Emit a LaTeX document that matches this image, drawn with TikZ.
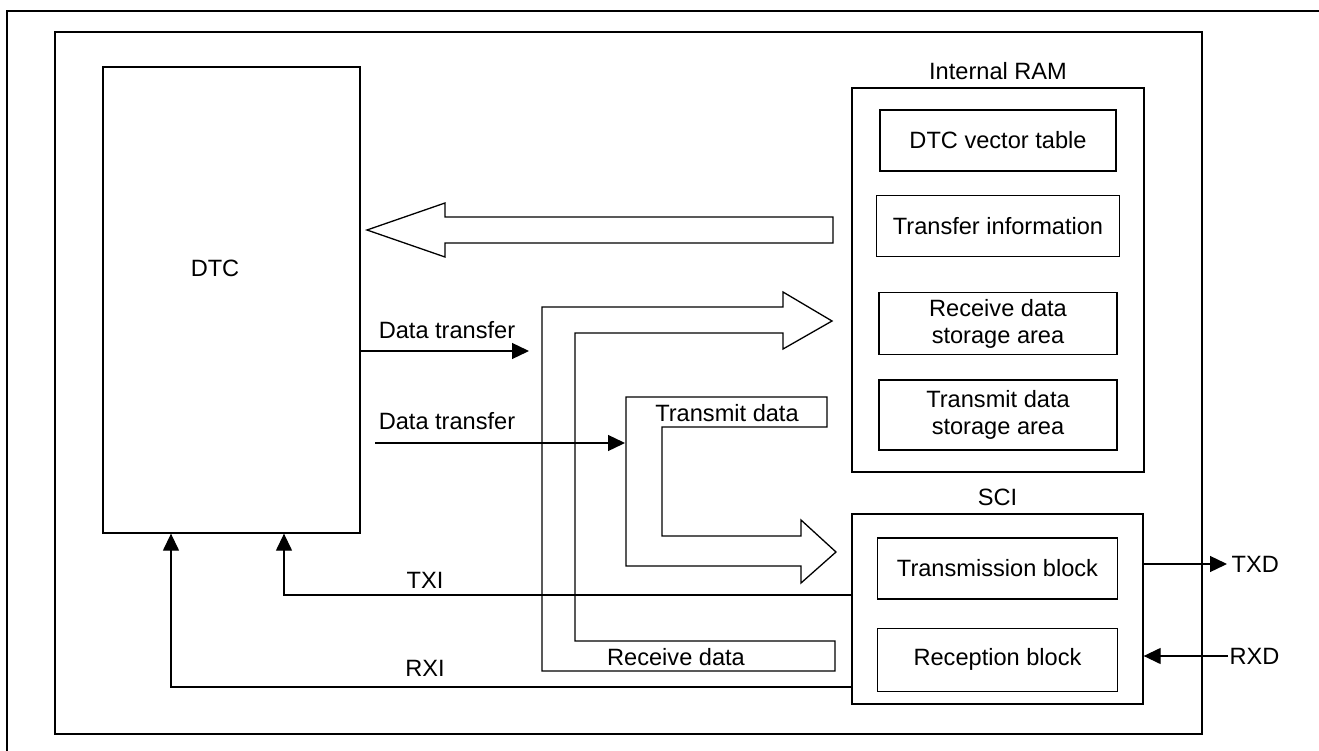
\documentclass[tikz,border=0pt]{standalone}
\usepackage{fontspec}
\setmainfont{Liberation Sans}
\usetikzlibrary{positioning,arrows.meta}
\begin{document}
\begin{tikzpicture}[x=1pt, y=-1pt, line width=1.3pt,
  every node/.style={font=\fontsize{23.6}{27}\selectfont, inner sep=0pt},
  box/.style={draw, rectangle},
  blk/.style={draw, rectangle, align=center, minimum width=238pt, minimum height=61pt},
  sig/.style={-{Triangle[length=17pt,width=16pt]}}]
  \useasboundingbox (0,0) rectangle (1319,751);
  \draw[line width=2pt] (7,751) -- (7,11) -- (1319,11);
  \draw (55,32) rectangle (1202,734);
  \node[box, minimum width=257pt, minimum height=466pt] (dtc) at (231.5,300) {};
  \node (dtclbl) at (215,268) {DTC};
  \node[box, minimum width=292pt, minimum height=384pt] (ram) at (998,280) {};
  \node (ramlbl) [above=7pt of ram] {Internal RAM};
  \node[blk, minimum width=236pt] (vec) [below=22pt of ram.north] {DTC vector table};
  \node[blk, minimum width=243pt] (info) [below=23pt of vec] {Transfer information};
  \node[blk, minimum height=62pt] (rxarea) [below=35pt of info] {Receive data\\storage area};
  \node[blk, minimum height=70pt] (txarea) [below=24pt of rxarea] {Transmit data\\storage area};
  \node[box, minimum width=291pt, minimum height=190pt] (sci) at (997.5,609) {};
  \node (scilbl) [above=7pt of sci] {SCI};
  \node[blk, minimum width=240pt] (txblk) [below=24pt of sci.north] {Transmission block};
  \node[blk, minimum width=240pt, minimum height=63pt] (rxblk) [below=28pt of txblk] {Reception block};
  \draw (833,217) -- (445,217) -- (445,203) -- (367,230) -- (445,257) -- (445,243) -- (833,243) -- cycle;
  \draw (542,671) -- (542,307) -- (783,307) -- (783,292) -- (832,321) -- (783,349) -- (783,333)
    -- (575,333) -- (575,641) -- (835,641) -- (835,671) -- cycle;
  \draw (626,566) -- (626,397) -- (827,397) -- (827,427) -- (662,427) -- (662,536) -- (801,536)
    -- (801,520) -- (836,552) -- (801,583) -- (801,566) -- cycle;
  \node (txdata) at (727,413) {Transmit data};
  \node (rxdata) at (676,657) {Receive data};
  \coordinate (dt1) at (529,351);
  \coordinate (dt2s) at (375,443);
  \coordinate (dt2e) at (625,443);
  \draw[sig] (dtc.east |- dt1) -- (dt1);
  \draw[sig] (dt2s) -- (dt2e);
  \node (dt1lbl) at (447,330) {Data transfer};
  \node (dt2lbl) at (447,421) {Data transfer};
  \coordinate (txi) at (284,595);
  \coordinate (rxi) at (171,687);
  \draw[sig] (sci.west |- txi) -| (dtc.south -| txi);
  \draw[sig] (sci.west |- rxi) -| (dtc.south -| rxi);
  \node (txilbl) at (425,580) {TXI};
  \node (rxilbl) at (425,668) {RXI};
  \coordinate (txd) at (1227,564);
  \coordinate (rxd) at (1228,656);
  \draw[sig] (sci.east |- txd) -- (txd);
  \draw[sig] (rxd) -- (sci.east |- rxd);
  \node (txdlbl) [right=4pt of txd] {TXD};
  \node (rxdlbl) [right=1pt of rxd] {RXD};
\end{tikzpicture}
\end{document}
